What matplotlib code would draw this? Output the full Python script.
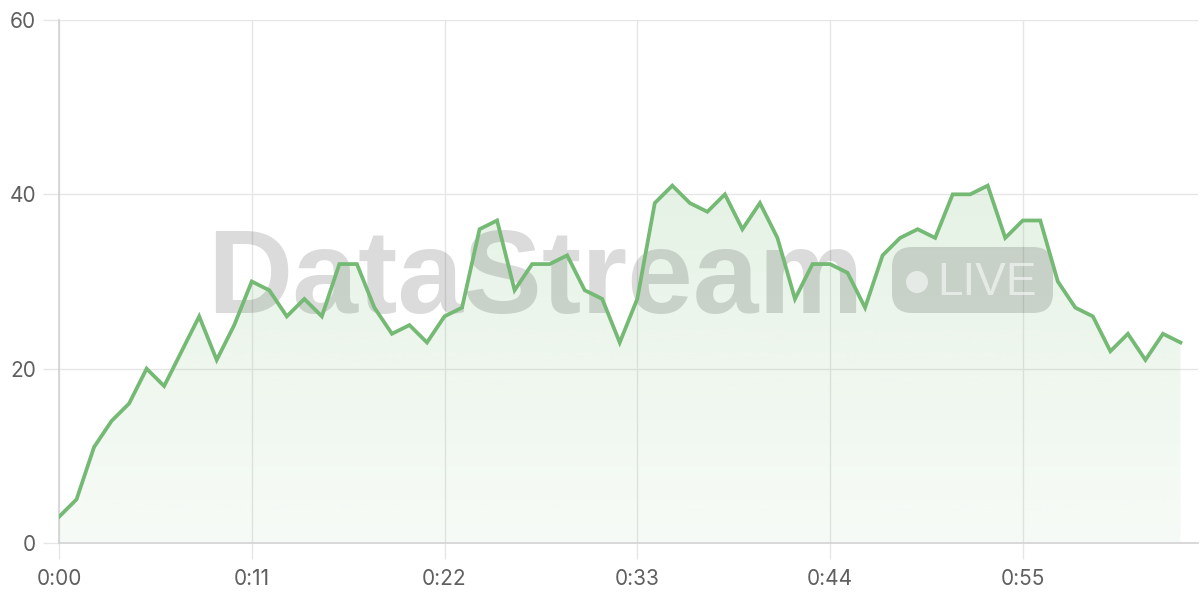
import numpy as np
import matplotlib
matplotlib.use("Agg")
import matplotlib.pyplot as plt
from matplotlib.patches import FancyBboxPatch, Circle

# seconds since start, one sample per second
seconds = list(range(65))
values = [3, 5, 11, 14, 16, 20, 18, 22, 26, 21,
          25, 30, 29, 26, 28, 26, 32, 32, 27, 24,
          25, 23, 26, 27, 36, 37, 29, 32, 32, 33,
          29, 28, 23, 28, 39, 41, 39, 38, 40, 36,
          39, 35, 28, 32, 32, 31, 27, 33, 35, 36,
          35, 40, 40, 41, 35, 37, 37, 30, 27, 26,
          22, 24, 21, 24, 23]
tick_secs = [0, 11, 22, 33, 44, 55]
tick_labels = ["0:00", "0:11", "0:22", "0:33", "0:44", "0:55"]
y_ticks = [0, 20, 40, 60]

line_col = "#74b974"
grid_col = "#e6e6e6"
axis_col = "#d2d2d2"
text_col = "#5f5f5f"

plt.rcParams['font.family'] = ['Inter', 'DejaVu Sans']

fig = plt.figure(figsize=(12, 6), dpi=100)
ax = fig.add_axes([59 / 1200, 57 / 600, (1198 - 59) / 1200, 523 / 600])
ax.set_xlim(0, 65)
ax.set_ylim(0, 60)

# gradient fill under the line
x = np.array(seconds)
y = np.array(values)
poly = ax.fill_between(x, y, 0, color="none", lw=0)
grad = np.zeros((256, 1, 4))
rgb = matplotlib.colors.to_rgb(line_col)
grad[:, 0, 0:3] = rgb
grad[:, 0, 3] = np.linspace(0.06, 0.24, 256)
img = ax.imshow(grad, extent=[0, 65, 0, 60], origin="lower", aspect="auto", zorder=1)
img.set_clip_path(poly.get_paths()[0], transform=ax.transData)

ax.plot(x, y, color=line_col, lw=2.7, zorder=6, solid_joinstyle="miter")

ax.set_xticks(tick_secs)
ax.set_xticklabels(tick_labels)
ax.set_yticks(y_ticks)
ax.grid(True, color=grid_col, lw=1.0, zorder=0)
ax.set_axisbelow(True)
ax.tick_params(axis="both", length=11.5, width=1.0, color=grid_col,
               labelsize=15, labelcolor=text_col)
ax.tick_params(axis="x", pad=7)
ax.tick_params(axis="y", pad=5)
for s in ["top", "right"]:
    ax.spines[s].set_visible(False)
ax.spines["left"].set_color(axis_col)
ax.spines["bottom"].set_color(axis_col)
ax.spines["left"].set_linewidth(1.2)
ax.spines["bottom"].set_linewidth(1.2)

# watermark, placed in inches (100 px each), under the line
tr = fig.dpi_scale_trans
ax.text(2.07, (600 - 313) / 100, "DataStream", transform=tr, fontsize=85,
        fontweight="bold", color="black", alpha=0.14, ha="left",
        va="baseline", family="Liberation Sans", zorder=3, clip_on=False)
badge = FancyBboxPatch((8.92, (600 - 313) / 100), 1.61, 0.66,
                       boxstyle="round,pad=0,rounding_size=0.2",
                       transform=tr, facecolor="black", edgecolor="none",
                       alpha=0.14, zorder=3, clip_on=False)
ax.add_artist(badge)
dot = Circle((9.17, (600 - 282) / 100), 0.11, transform=tr,
             facecolor="white", edgecolor="none", alpha=0.55, zorder=4, clip_on=False)
ax.add_artist(dot)
ax.text(9.37, (600 - 295) / 100, "LIVE", transform=tr, fontsize=33,
        color="white", alpha=0.55, ha="left", va="baseline",
        family="Liberation Sans", zorder=4, clip_on=False)

fig.savefig("out.png", dpi=100)
